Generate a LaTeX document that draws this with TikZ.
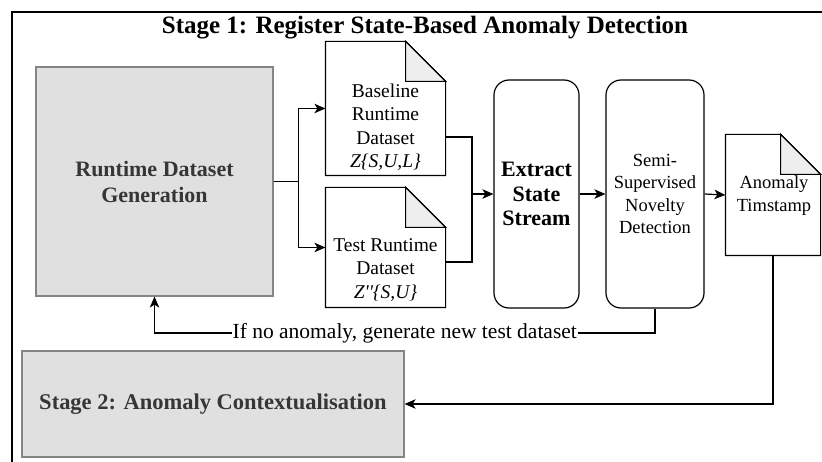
\documentclass[tikz,border=0pt]{standalone}
\usepackage{fontspec}
\setmainfont{Liberation Serif}
\usetikzlibrary{arrows.meta,calc}
\definecolor{boxfill}{HTML}{E0E0E0}
\definecolor{boxline}{HTML}{858585}
\definecolor{boxtext}{HTML}{363636}
\definecolor{foldfill}{HTML}{EEEEEE}
\newcommand{\docoutline}[1]{%
  \draw ($(#1.north east)+(-40,0)$) -- (#1.north west) -- (#1.south west) -- (#1.south east) -- ($(#1.north east)+(0,40)$) -- cycle;
  \draw[fill=foldfill] ($(#1.north east)+(-40,0)$) -- ($(#1.north east)+(-40,40)$) -- ($(#1.north east)+(0,40)$) -- cycle;}
\begin{document}
\begin{tikzpicture}[x=1pt,y=-1pt,line width=1.2pt,line join=miter,
  graybox/.style={draw=boxline,fill=boxfill,text=boxtext,font=\fontsize{22}{26}\selectfont\bfseries,align=center,inner sep=0},
  docbox/.style={inner sep=0,draw=none},
  doctext/.style={font=\fontsize{19.5}{23.5}\selectfont,align=center,inner sep=0},
  procbox/.style={draw,rounded corners=15pt,inner sep=0,align=center},
  arr/.style={-{Stealth[length=11pt,width=9.5pt,inset=3pt]}}]
\useasboundingbox (0,0) rectangle (822,462);
% frame
\draw (12,462) -- (12,12) -- (822,12);
\node (title) [font=\fontsize{25}{30}\selectfont\bfseries,inner sep=0] at (425,28) {Stage 1: Register State-Based Anomaly Detection};
% boxes
\node (rdg) [graybox,minimum width=237,minimum height=229] at (154.5,181.5) {Runtime Dataset\\Generation};
\node (st2) [graybox,minimum width=382,minimum height=106,font=\fontsize{22.5}{26}\selectfont\bfseries] at (213,404) {Stage 2: Anomaly Contextualisation};
% documents
\node (base) [docbox,minimum width=119,minimum height=133] at (385.5,108.5) {};
\docoutline{base}
\node (baset) [doctext] at (385.5,127) {Baseline\\Runtime\\Dataset\\\textit{Z\{S,U,L\}}};
\node (test) [docbox,minimum width=119,minimum height=119] at (385.5,247.5) {};
\docoutline{test}
\node (testt) [doctext] at (385.5,270) {Test Runtime\\Dataset\\\textit{Z\textquotesingle\textquotesingle\{S,U\}}};
\node (anom) [docbox,minimum width=94,minimum height=120] at (773,195) {};
\docoutline{anom}
\node (anomt) [doctext,font=\fontsize{18.5}{23}\selectfont] at (774,196) {Anomaly\\Timstamp};
% process boxes
\node (ess) [procbox,minimum width=85,minimum height=228,font=\fontsize{22}{24.5}\selectfont\bfseries] at (536.5,194) {Extract\\State\\Stream};
\node (ssnd) [procbox,minimum width=98,minimum height=228,font=\fontsize{18.5}{22.5}\selectfont] at (655,194) {Semi-\\Supervised\\Novelty\\Detection};
% connectors
\draw[arr] (rdg.east) -- ($(rdg.east)+(25,0)$) |- (base.west);
\draw[arr] (rdg.east) -- ($(rdg.east)+(25,0)$) |- (test.west);
\coordinate (j) at (472,194);
\draw (base.east |- 0,137) -| (j) |- (test.east |- 0,262);
\draw[arr] (j) -- (ess.west);
\draw[arr] (ess.east) -- (ssnd.west);
\draw[arr] (ssnd.east) -- (anom.west);
\draw[arr] (anom.south) |- (st2.east);
\draw[arr] (ssnd.south) -- (ssnd.south |- 0,333) -- node[fill=white,inner sep=1pt,font=\fontsize{21.5}{24}\selectfont] (fbl) {If no anomaly, generate new test dataset} (rdg.south |- 0,333) -- (rdg.south);
\end{tikzpicture}
\end{document}
